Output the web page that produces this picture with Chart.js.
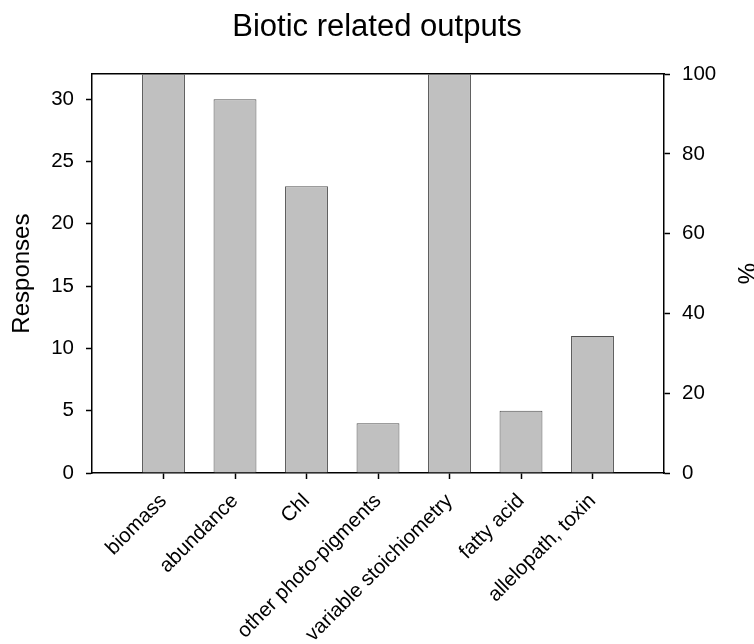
<!DOCTYPE html>
<html>
<head>
<meta charset="utf-8">
<script src="https://cdn.jsdelivr.net/npm/chart.js@4.4.1/dist/chart.umd.min.js"></script>
<style>
  html, body { margin: 0; padding: 0; background: #ffffff; }
  #wrap { width: 754px; height: 644px; }
</style>
</head>
<body>
<div id="wrap"><canvas id="c" width="754" height="644"></canvas></div>
<script>
const categories = ['biomass', 'abundance', 'Chl', 'other photo-pigments', 'variable stoichiometry', 'fatty acid', 'allelopath, toxin'];
const responses = [32, 30, 23, 4, 32, 5, 11];
const leftTicks = [0, 5, 10, 15, 20, 25, 30];
const rightTicks = [0, 20, 40, 60, 80, 100];
const leftMax = 32;
const rightMax = 100;

// pad categories with empty slots so bars sit at 1..7 of a 0..8 axis
const labels = [''].concat(categories, ['']);
const values = [null].concat(responses, [null]);

const FONT = "'Liberation Sans', Arial, sans-serif";
const lastIdx = labels.length - 1;

new Chart(document.getElementById('c'), {
  type: 'bar',
  data: {
    labels: labels,
    datasets: [{
      data: values,
      backgroundColor: '#c0c0c0',
      borderColor: '#505050',
      borderWidth: 1,
      barPercentage: 0.6,
      categoryPercentage: 1.0,
      xAxisID: 'x',
      yAxisID: 'y'
    }]
  },
  options: {
    responsive: false,
    animation: false,
    layout: { padding: 0 },
    plugins: {
      legend: { display: false },
      tooltip: { enabled: false },
      title: {
        display: true,
        text: 'Biotic related outputs',
        color: '#000',
        font: { family: FONT, size: 31, weight: 'normal', lineHeight: 1.2 },
        padding: { top: 9, bottom: 28 }
      }
    },
    scales: {
      x: {
        type: 'category',
        position: 'bottom',
        offset: false,
        grid: {
          offset: false,
          drawOnChartArea: false,
          drawTicks: true,
          tickLength: 6,
          tickWidth: 1.5,
          tickColor: (ctx) => (ctx.index === 0 || ctx.index === lastIdx) ? 'rgba(0,0,0,0)' : '#000'
        },
        border: { display: true, color: '#000', width: 1.5 },
        ticks: {
          color: '#000',
          font: { family: FONT, size: 20.5 },
          minRotation: 45,
          maxRotation: 45,
          autoSkip: false,
          padding: 10
        },
        afterFit: (s) => { s.height = 171; }
      },
      xTop: {
        type: 'category',
        position: 'top',
        offset: false,
        grid: { display: false, drawTicks: false, drawOnChartArea: false },
        border: { display: true, color: '#000', width: 1.5 },
        ticks: { display: false },
        afterFit: (s) => { s.height = 0; }
      },
      y: {
        type: 'linear',
        position: 'left',
        min: 0,
        max: leftMax,
        grid: {
          drawOnChartArea: false,
          drawTicks: true,
          tickLength: 6,
          tickWidth: 1.5,
          tickColor: '#000'
        },
        border: { display: true, color: '#000', width: 1.5 },
        ticks: {
          color: '#000',
          font: { family: FONT, size: 20.5 },
          padding: 12
        },
        afterBuildTicks: (s) => { s.ticks = leftTicks.map(v => ({ value: v })); },
        title: {
          display: true,
          text: 'Responses',
          color: '#000',
          font: { family: FONT, size: 24, lineHeight: 1.2 },
          padding: { top: 8, bottom: 0 }
        },
        afterFit: (s) => { s.width = 92; }
      },
      y2: {
        type: 'linear',
        position: 'right',
        min: 0,
        max: rightMax,
        grid: {
          drawOnChartArea: false,
          drawTicks: true,
          tickLength: 6,
          tickWidth: 1.5,
          tickColor: '#000'
        },
        border: { display: true, color: '#000', width: 1.5 },
        ticks: {
          color: '#000',
          font: { family: FONT, size: 20.5 },
          padding: 12
        },
        afterBuildTicks: (s) => { s.ticks = rightTicks.map(v => ({ value: v })); },
        title: {
          display: true,
          text: '%',
          color: '#000',
          font: { family: FONT, size: 24, lineHeight: 0.8 },
          padding: { top: 0, bottom: 0 }
        },
        afterFit: (s) => { s.width = 90; }
      }
    }
  }
});
</script>
</body>
</html>
